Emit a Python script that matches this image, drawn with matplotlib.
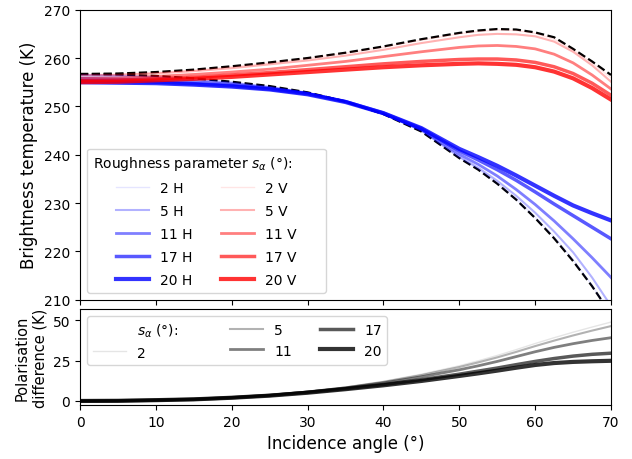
import matplotlib
matplotlib.use("Agg")
import matplotlib.pyplot as plt
from matplotlib.lines import Line2D

# incidence angles (deg)
angles = [0, 5, 10, 15, 20, 25, 30, 35, 40, 45, 50, 52.5, 55, 57.5, 60, 62.5, 65, 67.5, 70]
roughness = [2, 5, 11, 17, 20]

# flat surface reference (dashed)
flat_v = [256.7, 256.8, 257.1, 257.6, 258.3, 259.1, 260.0, 261.1, 262.4, 263.9, 265.2, 265.7, 266.0, 265.9, 265.3, 264.3, 261.9, 259.3, 256.5]
flat_h = [256.7, 256.6, 256.3, 255.8, 255.1, 254.2, 252.9, 251.0, 248.4, 244.8, 239.3, 236.9, 234.0, 230.7, 226.9, 222.7, 218.0, 212.8, 207.0]

# brightness temperature, H polarisation
tb_h2 = [256.6, 256.5, 256.2, 255.7, 255.0, 254.1, 252.9, 251.0, 248.4, 244.9, 239.4, 237.0, 234.1, 230.8, 227.1, 223.0, 218.3, 213.0, 206.8]
tb_h5 = [256.4, 256.3, 256.0, 255.5, 254.9, 254.0, 252.8, 251.0, 248.4, 245.0, 239.6, 237.3, 234.6, 231.5, 228.0, 224.1, 219.8, 214.6, 208.7]
tb_h11 = [255.8, 255.7, 255.5, 255.1, 254.6, 253.8, 252.7, 251.0, 248.5, 245.2, 240.1, 238.0, 235.6, 232.8, 229.7, 226.3, 222.6, 218.7, 214.6]
tb_h17 = [255.3, 255.2, 255.0, 254.7, 254.3, 253.6, 252.6, 251.0, 248.6, 245.4, 240.8, 238.9, 236.9, 234.7, 232.3, 229.8, 227.4, 225.0, 222.6]
tb_h20 = [255.0, 254.9, 254.8, 254.5, 254.1, 253.5, 252.5, 250.9, 248.6, 245.5, 241.2, 239.5, 237.7, 235.7, 233.6, 231.5, 229.5, 227.9, 226.4]

# brightness temperature, V polarisation
tb_v2 = [256.6, 256.7, 257.0, 257.5, 258.2, 259.0, 259.9, 261.0, 262.2, 263.7, 265.0, 265.5, 265.8, 265.7, 265.1, 263.9, 261.7, 259.0, 255.9]
tb_v5 = [256.4, 256.5, 256.8, 257.3, 257.9, 258.7, 259.5, 260.5, 261.7, 263.1, 264.3, 264.8, 265.0, 264.9, 264.5, 263.4, 261.3, 258.5, 255.1]
tb_v11 = [255.8, 255.9, 256.2, 256.6, 257.1, 257.7, 258.5, 259.3, 260.3, 261.3, 262.2, 262.5, 262.6, 262.4, 261.9, 260.8, 259.0, 256.5, 253.6]
tb_v17 = [255.3, 255.4, 255.7, 256.0, 256.5, 257.0, 257.6, 258.2, 258.8, 259.3, 259.7, 259.8, 259.8, 259.6, 259.1, 258.2, 256.8, 254.8, 252.3]
tb_v20 = [255.0, 255.1, 255.4, 255.7, 256.1, 256.6, 257.1, 257.6, 258.1, 258.5, 258.8, 258.9, 258.8, 258.6, 258.1, 257.2, 255.8, 253.8, 251.4]

# polarisation difference (V - H)
pd2 = [0, 0.1, 0.5, 1.1, 2.2, 3.7, 5.9, 8.6, 12.2, 16.6, 21.8, 24.9, 28.2, 31.8, 35.6, 39.2, 42.6, 45.8, 48.9]
pd5 = [0, 0.1, 0.5, 1.1, 2.2, 3.6, 5.8, 8.4, 11.8, 16.0, 21.0, 23.9, 27.0, 30.4, 34.0, 37.4, 40.6, 43.6, 46.4]
pd11 = [0, 0.1, 0.5, 1.1, 2.1, 3.5, 5.6, 8.1, 11.2, 15.0, 19.3, 21.8, 24.5, 27.5, 30.5, 33.2, 35.5, 37.5, 39.2]
pd17 = [0, 0.1, 0.5, 1.0, 2.0, 3.4, 5.3, 7.6, 10.2, 13.2, 16.6, 18.5, 20.4, 22.5, 24.5, 26.3, 27.8, 28.9, 29.6]
pd20 = [0, 0.1, 0.5, 1.0, 2.0, 3.3, 5.1, 7.3, 9.7, 12.4, 15.5, 17.1, 18.8, 20.6, 22.3, 23.5, 24.2, 24.6, 24.9]

tb_h = [tb_h2, tb_h5, tb_h11, tb_h17, tb_h20]
tb_v = [tb_v2, tb_v5, tb_v11, tb_v17, tb_v20]
pol_diff = [pd2, pd5, pd11, pd17, pd20]

alphas = [0.1, 0.3, 0.5, 0.65, 0.8]
widths = [1.0, 1.5, 2.0, 2.5, 3.0]

fig = plt.figure(figsize=(6.32, 4.6), dpi=100)
ax1 = fig.add_axes([0.1266, 0.3463, 0.8402, 0.6304])
ax2 = fig.add_axes([0.1266, 0.1174, 0.8402, 0.2087])

# top panel: brightness temperatures
ax1.plot(angles, flat_v, "--", color="black", lw=1.6)
ax1.plot(angles, flat_h, "--", color="black", lw=1.6)
for s, h, a, w in zip(roughness, tb_h, alphas, widths):
    ax1.plot(angles, h, color="blue", alpha=a, lw=w, label=f"{s} H")
for s, v, a, w in zip(roughness, tb_v, alphas, widths):
    ax1.plot(angles, v, color="red", alpha=a, lw=w, label=f"{s} V")

ax1.set_xlim(0, 70)
ax1.set_ylim(210, 270)
ax1.set_xticks(range(0, 71, 10))
ax1.set_xticklabels([])
ax1.set_ylabel("Brightness temperature (K)", fontsize=12)
ax1.legend(loc="lower left", ncol=2, fontsize=10, handlelength=2.4, labelspacing=0.65,
           title=r"Roughness parameter $s_\alpha$ (°):" + "       ", title_fontsize=10)

# bottom panel: polarisation difference
for s, d, a, w in zip(roughness, pol_diff, alphas, widths):
    ax2.plot(angles, d, color="black", alpha=a, lw=w, label=f"{s}")

handles, labels = ax2.get_legend_handles_labels()
blank = Line2D([], [], linestyle="none")
ax2.legend([blank] + handles, [r"$s_\alpha$ (°):" + "      "] + labels, loc="upper left",
           ncol=3, fontsize=10, handlelength=2.4, handleheight=1.1, labelspacing=0.45)

ax2.set_xlim(0, 70)
ax2.set_ylim(-2.5, 57)
ax2.set_xticks(range(0, 71, 10))
ax2.set_yticks([0, 25, 50])
ax2.set_xlabel("Incidence angle (°)", fontsize=12)
ax2.set_ylabel("Polarisation\ndifference (K)", fontsize=10.5)

fig.savefig("out.png", dpi=100)
